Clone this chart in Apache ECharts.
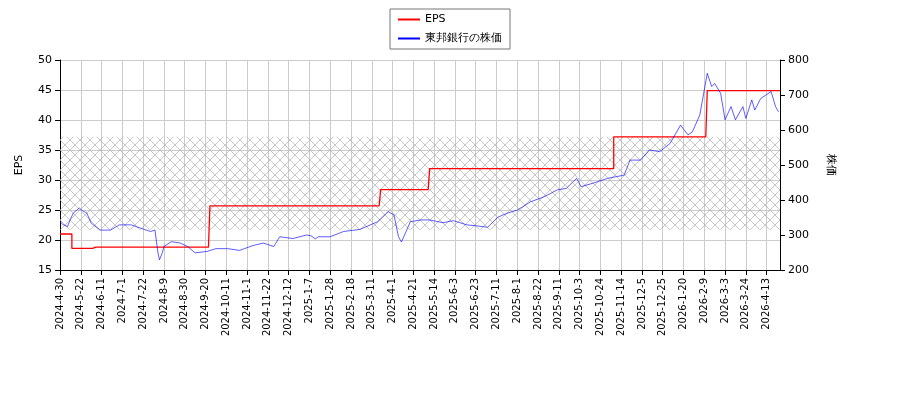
<!DOCTYPE html>
<html><head><meta charset="utf-8">
<script src="https://cdn.jsdelivr.net/npm/echarts@6/dist/echarts.min.js"></script>
<style>body{margin:0}#c{width:900px;height:400px}</style></head>
<body><div id="c"></div>
<script>
const startDate = '2024-04-30', endDate = '2026-04-24';
const holidays = ['2024-05-03','2024-05-06','2024-07-15','2024-08-12','2024-09-16','2024-09-23','2024-10-14','2024-11-04','2024-12-31',
'2025-01-01','2025-01-02','2025-01-03','2025-01-13','2025-02-11','2025-02-24','2025-03-20','2025-04-29','2025-05-05','2025-05-06','2025-07-21','2025-08-11','2025-09-15','2025-09-23','2025-10-13','2025-11-03','2025-11-24','2025-12-31',
'2026-01-01','2026-01-02','2026-01-12','2026-02-11','2026-02-23','2026-03-20','2026-04-29'];
// EPS step changes: [trading-day index, value]
const epsSteps = [[0,21.0],[8,18.6],[23,18.8],[101,25.7],[216,28.4],[249,31.9],[373,37.2],[436,44.9]];
// stock price: [trading-day index, value]
const pricePts = [[0,338],[2,330],[5,324],[7,345],[9,363],[13,377],[15,370],[18,363],[21,334],[27,314],[34,314],[40,329],[48,329],[54,320],[61,310],[64,314],[65,280],[66,249],[67,229],[69,250],[70,267],[75,281],[81,277],[86,267],[91,249],[99,253],[105,261],[113,261],[121,256],[130,270],[137,277],[144,267],[148,295],[157,290],[166,300],[169,298],[172,289],[174,295],[182,295],[191,310],[202,316],[214,338],[221,367],[225,357],[228,295],[230,280],[236,338],[243,343],[249,343],[258,335],[265,341],[274,329],[281,326],[288,322],[295,351],[301,362],[308,371],[317,395],[326,409],[335,429],[341,433],[348,462],[351,438],[359,448],[369,462],[380,471],[384,514],[391,514],[397,543],[404,538],[411,562],[418,614],[423,586],[426,595],[431,643],[436,762],[439,724],[441,733],[445,705],[448,629],[452,667],[455,629],[460,667],[462,633],[466,686],[468,657],[472,690],[479,710],[482,667],[484,652]];

const cats = [];
for (let d = new Date(startDate+'T00:00:00Z'); d <= new Date(endDate+'T00:00:00Z'); d.setUTCDate(d.getUTCDate()+1)) {
  const w = d.getUTCDay(); const s = d.toISOString().slice(0,10);
  if (w===0||w===6||holidays.includes(s)) continue;
  cats.push(d.getUTCFullYear()+'-'+(d.getUTCMonth()+1)+'-'+d.getUTCDate());
}
const eps = cats.map((_,i)=>{let v=null;for(const [k,val] of epsSteps) if(k<=i) v=val; return v;});
const price = pricePts.filter(p=>p[0]<cats.length);

const pc = document.createElement('canvas'); pc.width=10; pc.height=10;
const g = pc.getContext('2d'); g.strokeStyle='#b0b0b0'; g.lineWidth=0.7;
g.beginPath(); g.moveTo(0,0); g.lineTo(10,10); g.moveTo(10,0); g.lineTo(0,10); g.stroke();

const ch = echarts.init(document.getElementById('c'));
const font = 'DejaVu Sans';
ch.setOption({
  animation:false,
  textStyle:{fontFamily:font},
  legend:{top:9,left:'center',orient:'vertical',borderColor:'#777',borderWidth:1,borderRadius:0,padding:[5,8],itemWidth:22,itemHeight:2,itemGap:8,
    textStyle:{fontSize:11,color:'#000'},data:[{name:'EPS',icon:'rect'},{name:'東邦銀行の株価',icon:'rect'}]},
  grid:{left:60,right:120,top:60,bottom:130},
  xAxis:{type:'category',data:cats,boundaryGap:false,
    axisLine:{lineStyle:{color:'#000'}},axisTick:{interval:13,lineStyle:{color:'#000'}},
    axisLabel:{interval:13,rotate:90,fontSize:10,color:'#000'},
    splitLine:{show:true,interval:13,lineStyle:{color:'#ccc'}}},
  yAxis:[{type:'value',min:15,max:50,interval:5,name:'EPS',nameLocation:'middle',nameGap:35,nameRotate:90,
      nameTextStyle:{fontSize:11,color:'#000'},
      axisLine:{show:true,lineStyle:{color:'#000'}},axisTick:{show:true},axisLabel:{fontSize:11,color:'#000'},
      splitLine:{lineStyle:{color:'#ccc'}}},
    {type:'value',min:200,max:800,interval:100,name:'株価',nameLocation:'middle',nameGap:45,nameRotate:-90,
      nameTextStyle:{fontSize:11,color:'#000'},
      axisLine:{show:true,lineStyle:{color:'#000'}},axisTick:{show:true},axisLabel:{fontSize:11,color:'#000'},
      splitLine:{show:false}}],
  series:[
    {name:'EPS',type:'line',data:eps,step:'end',symbol:'none',yAxisIndex:0,z:3,
      lineStyle:{color:'#f00',width:1.3},itemStyle:{color:'#f00'},
      markArea:{silent:true,itemStyle:{color:{image:pc,repeat:'repeat'},opacity:1},
        data:[[{yAxis:21.7,xAxis:0},{yAxis:37.2,xAxis:cats.length-1}]]}},
    {name:'東邦銀行の株価',type:'line',data:price,symbol:'none',yAxisIndex:1,z:4,
      lineStyle:{color:'#00f',width:0.8,opacity:0.8},itemStyle:{color:'#00f'}}
  ]
});
</script></body></html>
